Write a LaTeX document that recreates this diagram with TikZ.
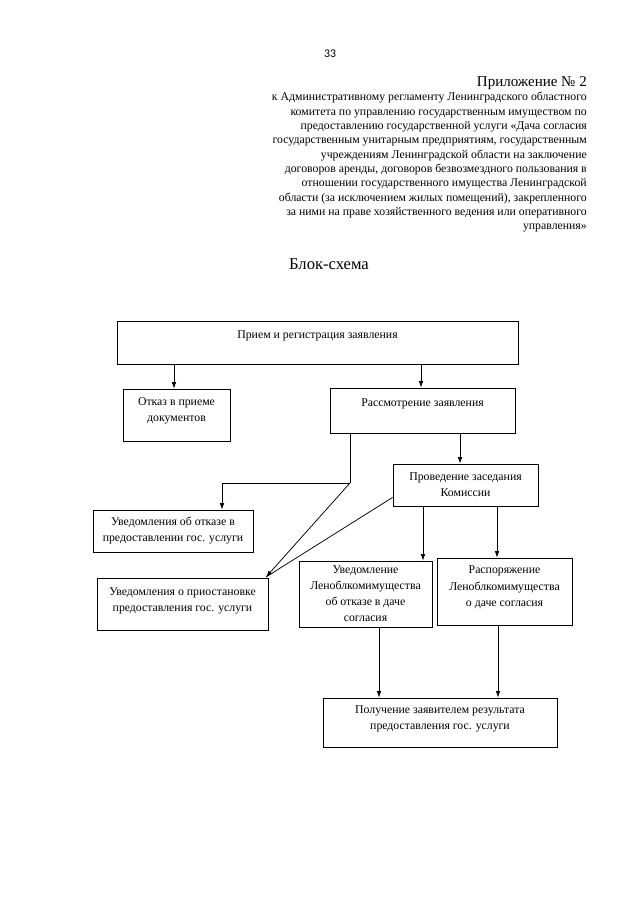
\documentclass[tikz,border=0pt]{standalone}
\usepackage{fontspec}
\setmainfont{Liberation Serif}
\newfontfamily\pagefont{Carlito}
\usetikzlibrary{arrows.meta,calc}

\tikzset{
  box/.style={draw, line width=0.7pt, inner sep=0pt, align=center,
    font=\fontsize{11}{15}\selectfont},
  boxsize/.style 2 args={minimum width=#1*0.3281mm, minimum height=#2*0.3281mm},
  lift/.style={text depth=#1},
  arr/.style={line width=0.7pt, -{Latex[length=6pt,width=4.2pt]}},
  link/.style={line width=0.7pt},
}

\begin{document}
\begin{tikzpicture}[x=0.3281mm, y=-0.3281mm]
    \useasboundingbox (0,0) rectangle (640,905);
    % draw the heading
    \node (page) at (330,54) {\pagefont\fontsize{11}{13}\selectfont 33};
    \node[anchor=base east, inner sep=0pt] (app) at (587,86)
        {\fontsize{14}{16}\selectfont Приложение № 2};
    \node[anchor=north east, inner sep=0pt, align=right,
        font=\fontsize{11}{13.4}\selectfont] (reglament) at (587,92)
        {к Административному регламенту Ленинградского областного\\
         комитета по управлению государственным имуществом по\\
         предоставлению государственной услуги «Дача согласия\\
         государственным унитарным предприятиям, государственным\\
         учреждениям Ленинградской области на заключение\\
         договоров аренды, договоров безвозмездного пользования в\\
         отношении государственного имущества Ленинградской\\
         области (за исключением жилых помещений), закрепленного\\
         за ними на праве хозяйственного ведения или оперативного\\
         управления»};
    \node (title) at (329,264) {\fontsize{15.5}{18}\selectfont Блок-схема};
    % draw the boxes
    \node[box, boxsize={401}{43}, text height=8pt, text depth=15pt] (reg)
        at (317.5,342.5) {Прием и регистрация заявления};
    \node[box, boxsize={107}{52}, lift=10pt] (otkaz) at (176.5,415)
        {Отказ в приеме\\документов};
    \node[box, boxsize={185}{45}, text height=8pt, text depth=16pt] (rassm)
        at (422.5,410.5) {Рассмотрение заявления};
    \node[box, boxsize={145}{42}] (proved) at (465.5,485)
        {Проведение заседания\\Комиссии};
    \node[box, boxsize={160}{42}] (uvotk) at (173,531)
        {Уведомления об отказе в\\предоставлении гос. услуги};
    \node[box, boxsize={171}{52}, lift=9pt] (uvpri) at (182.5,604)
        {Уведомления о приостановке\\предоставления гос. услуги};
    \node[box, boxsize={133}{66}] (uvlen) at (365.5,594)
        {Уведомление\\Леноблкомимущества\\об отказе в даче\\согласия};
    \node[box, boxsize={135}{67}, lift=10pt] (rasp) at (504.5,591.5)
        {Распоряжение\\Леноблкомимущества\\о даче согласия};
    \node[box, boxsize={234}{49}, lift=9pt] (result) at (440,722.5)
        {Получение заявителем результата\\предоставления гос. услуги};
    % x positions of the arrows
    \coordinate (xotkaz) at (174,0);
    \coordinate (xrassm) at (421,0);
    \coordinate (xleft) at (350,0);
    \coordinate (xright) at (460,0);
    \coordinate (xuvlen) at (423,0);
    \coordinate (xrasp) at (497,0);
    \coordinate (xres1) at (379,0);
    \coordinate (xres2) at (498,0);
    \coordinate (bend) at (350,483);
    \coordinate (corner) at (222,483);
    \coordinate (tip) at (266,577);
    % draw the arrows
    \draw[arr] (reg.south -| xotkaz) -- (otkaz.north -| xotkaz);
    \draw[arr] (reg.south -| xrassm) -- (rassm.north -| xrassm);
    \draw[link] (rassm.south -| xleft) -- (bend);
    \draw[arr] (bend) -- (corner) -- (corner |- uvotk.north);
    \draw[arr] (bend) -- (tip);
    \draw[link] ($(proved.south west)+(0,-9)$) -- (tip);
    \draw[arr] (rassm.south -| xright) -- (proved.north -| xright);
    \draw[arr] (proved.south -| xuvlen) -- (uvlen.north -| xuvlen);
    \draw[arr] (proved.south -| xrasp) -- (rasp.north -| xrasp);
    \draw[arr] (uvlen.south -| xres1) -- (result.north -| xres1);
    \draw[arr] (rasp.south -| xres2) -- (result.north -| xres2);
\end{tikzpicture}
\end{document}
